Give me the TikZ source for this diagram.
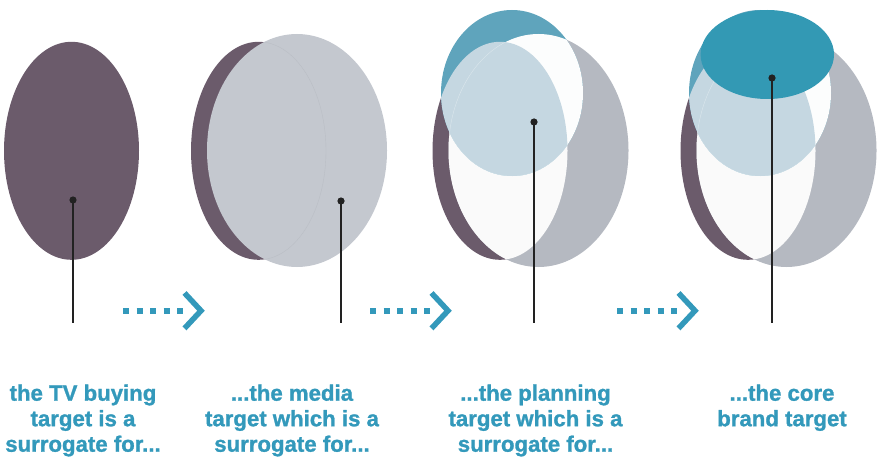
\documentclass[tikz,border=0pt]{standalone}
\usepackage{fontspec}
\setmainfont{Liberation Sans}[BoldFeatures={FakeBold=1.2}]
\definecolor{plum}{HTML}{6B5B6B}
\definecolor{mist}{HTML}{C4C8CF}
\definecolor{slate}{HTML}{B5B9C1}
\definecolor{paleW}{HTML}{FAFAFA}
\definecolor{paleW2}{HTML}{FCFDFD}
\definecolor{tealL}{HTML}{5FA4BC}
\definecolor{iceblue}{HTML}{C5D7E1}
\definecolor{tealD}{HTML}{3399B4}
\definecolor{inkblue}{HTML}{3399BB}
\definecolor{leaderC}{HTML}{222222}
\begin{document}
\begin{tikzpicture}[x=1pt,y=-1pt,
  plumE/.style={insert path={(0,150.8) ellipse [x radius=67.5pt, y radius=109pt]}},
  greyE/.style={insert path={(38.5,150.5) ellipse [x radius=90pt, y radius=116.5pt]}},
  tealE/.style={insert path={(12,93) ellipse [x radius=71pt, y radius=83pt]}},
  coreE/.style={insert path={(19.3,54.5) ellipse [x radius=66.7pt, y radius=44.5pt]}},
  dotmark/.style={circle, fill=leaderC, inner sep=0pt, minimum size=7.2pt},
  leader/.style={draw=leaderC, line width=1.3pt},
  caption/.style={text=inkblue, align=center, anchor=base,
    font=\bfseries\fontsize{22.2}{25.5}\selectfont},
  dots/.style={draw=inkblue, line width=6pt, dash pattern=on 6pt off 7.5pt},
  chevron/.style={draw=inkblue, line width=5.5pt, miter limit=10}
]
\useasboundingbox (0,0) rectangle (882,457);

% stage 1: single ellipse
\begin{scope}[xshift=71.5pt]
  \fill[plum, plumE];
\end{scope}

% stage 2: media ellipse over the buying ellipse
\begin{scope}[xshift=258.5pt]
  \fill[plum, plumE];
  \fill[mist, greyE];
  \begin{scope}
    \clip[greyE];
    \draw[color=mist!95!black, line width=0.4pt, plumE];
  \end{scope}
\end{scope}

% stage 3: planning ellipse added
\begin{scope}[xshift=500pt]
  \fill[plum, plumE];
  \fill[slate, greyE];
  \begin{scope}\clip[plumE]; \fill[paleW, greyE];\end{scope}
  \fill[tealL, tealE];
  \begin{scope}\clip[greyE]; \fill[paleW2, tealE];\end{scope}
  \begin{scope}\clip[plumE]; \fill[iceblue, tealE];\end{scope}
  \begin{scope}\clip[plumE]; \clip[tealE];
    \draw[color=iceblue!60!white, line width=0.4pt, greyE];\end{scope}
\end{scope}

% stage 4: core brand ellipse on top
\begin{scope}[xshift=748pt]
  \fill[plum, plumE];
  \fill[slate, greyE];
  \begin{scope}\clip[plumE]; \fill[paleW, greyE];\end{scope}
  \fill[tealL, tealE];
  \begin{scope}\clip[greyE]; \fill[paleW2, tealE];\end{scope}
  \begin{scope}\clip[plumE]; \fill[iceblue, tealE];\end{scope}
  \begin{scope}\clip[plumE]; \clip[tealE];
    \draw[color=iceblue!60!white, line width=0.4pt, greyE];\end{scope}
  \fill[tealD, coreE];
\end{scope}

% leader dots and lines
\node[dotmark] (d1) at (73,200) {};
\node[dotmark] (d2) at (341,201) {};
\node[dotmark] (d3) at (534,122) {};
\node[dotmark] (d4) at (772,78) {};
\coordinate (e1) at (73,323);
\coordinate (e2) at (341,323);
\coordinate (e3) at (534,323);
\coordinate (e4) at (772,323);
\foreach \i in {1,...,4} \draw[leader] (d\i.center) -- (e\i);

% dotted arrows between the stages
\foreach \s in {0,247,494} {
  \draw[dots] (123+\s,310.7) -- (183+\s,310.7);
  \draw[chevron] (184.5+\s,293) -- (201+\s,310.7) -- (184.5+\s,328.4);
}

% captions (anchored at the baseline of the last line)
\node[caption] (c1) at (83,451.7) {the TV buying\\target is a\\surrogate for...};
\node[caption] (c2) at (292,451.7) {...the media\\target which is a\\surrogate for...};
\node[caption] (c3) at (535.5,451.7) {...the planning\\target which is a\\surrogate for...};
\node[caption] (c4) at (782,426.2) {...the core\\brand target};
\end{tikzpicture}
\end{document}
